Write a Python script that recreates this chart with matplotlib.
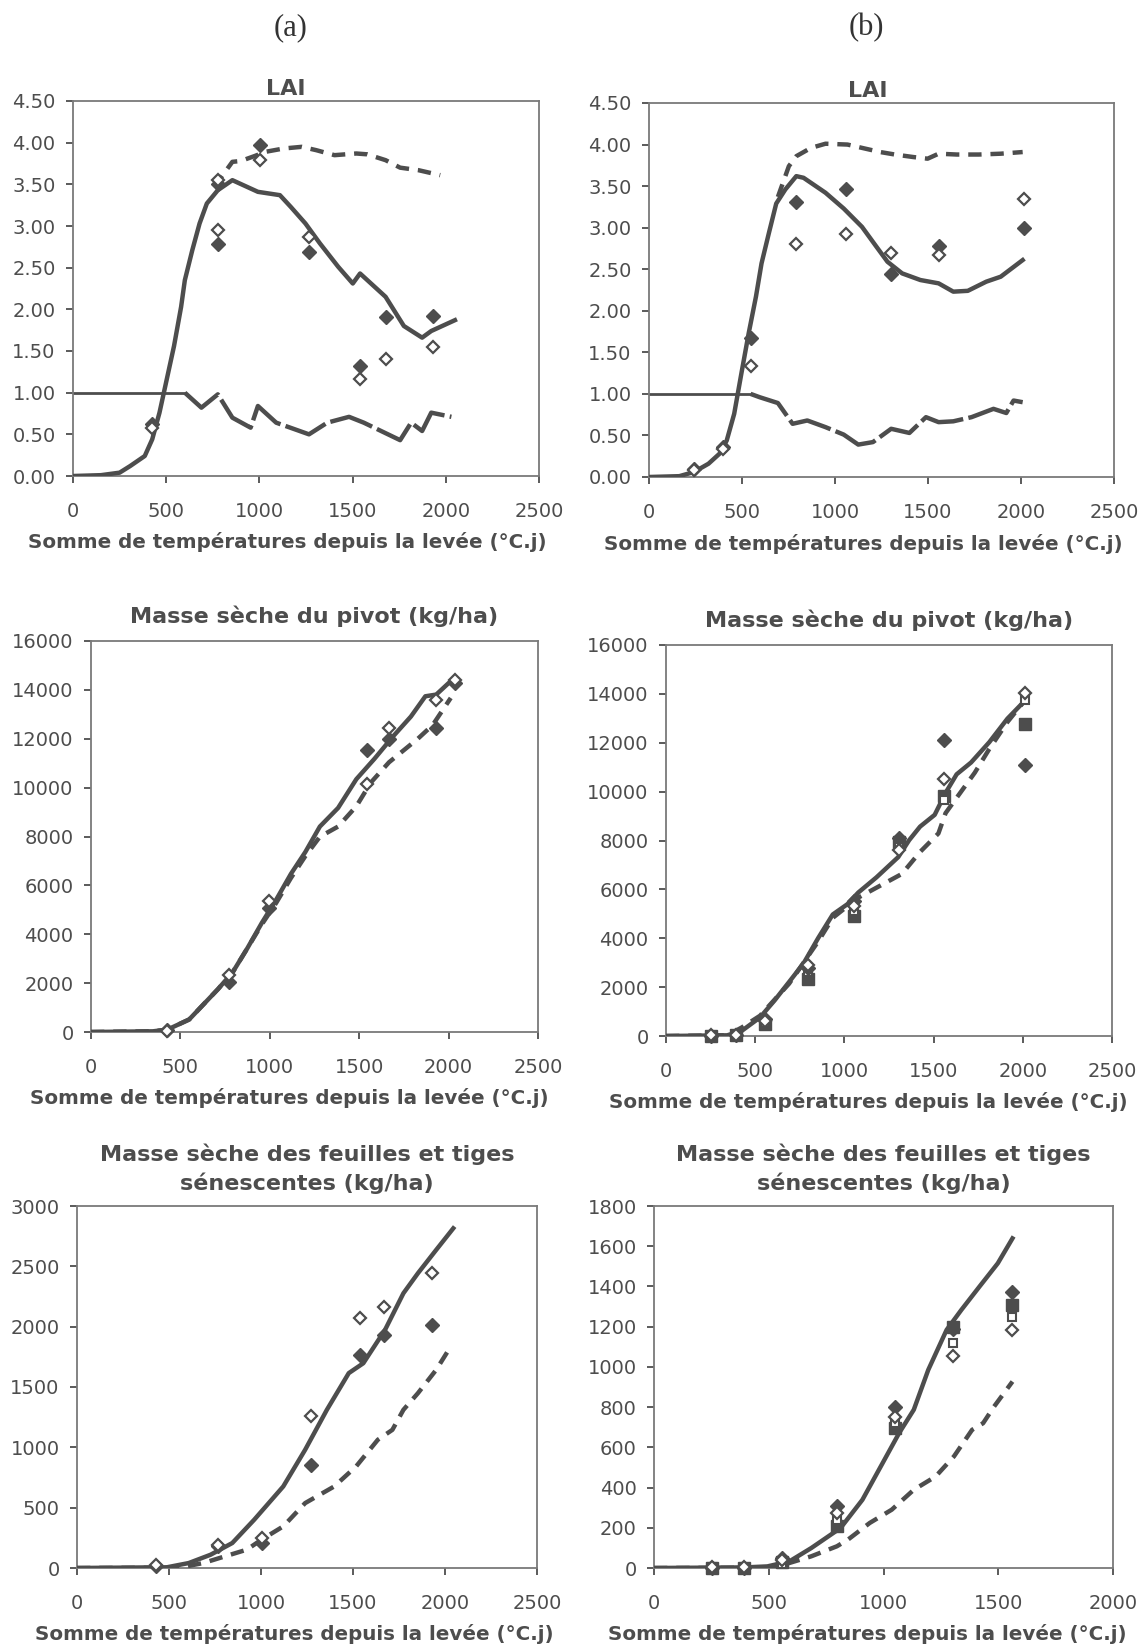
import matplotlib
matplotlib.use("Agg")
import matplotlib.pyplot as plt
from matplotlib.ticker import MultipleLocator, FormatStrFormatter

W, H = 1143, 1647
GREY = '#4d4d4d'
plt.rcParams['font.family'] = ['DejaVu Sans']

XLAB = 'Somme de températures depuis la levée (°C.j)'

# ---- LAI (a)
lai_a_x = [0, 150, 250, 307, 385, 425, 464, 503, 542, 580, 600, 640, 679, 718, 777, 855,
           992, 1110, 1168, 1247, 1325, 1423, 1501, 1540, 1677, 1775, 1873, 1922, 2049]
lai_a_y = [0, 0.01, 0.04, 0.12, 0.24, 0.44, 0.76, 1.16, 1.56, 2.03, 2.35, 2.71, 3.03, 3.27,
           3.43, 3.55, 3.41, 3.37, 3.23, 3.03, 2.79, 2.51, 2.31, 2.43, 2.15, 1.80, 1.66, 1.74, 1.87]
laimax_a_x = [760, 800, 855, 900, 975, 1032, 1130, 1227, 1305, 1403, 1520, 1579, 1677, 1755, 1853, 1970]
laimax_a_y = [3.47, 3.60, 3.77, 3.78, 3.84, 3.89, 3.93, 3.95, 3.91, 3.85, 3.87, 3.86, 3.79, 3.70, 3.67, 3.61]
stress_a_x = [0, 600, 689, 777, 855, 953, 992, 1090, 1266, 1364, 1481, 1560, 1755, 1814, 1873, 1922, 2030]
stress_a_y = [1.0, 1.0, 0.82, 0.98, 0.70, 0.58, 0.84, 0.64, 0.50, 0.64, 0.71, 0.64, 0.43, 0.64, 0.54, 0.76, 0.71]
obs_a_x = [425, 777, 777, 1002, 1266, 1540, 1677, 1932]
obs_a_fill = [0.62, 2.79, 3.51, 3.97, 2.69, 1.32, 1.91, 1.92]
obs_a_open = [0.58, 2.95, 3.55, 3.79, 2.87, 1.17, 1.40, 1.55]

# ---- LAI (b)
lai_b_x = [0, 163, 242, 320, 379, 418, 458, 497, 536, 575, 605, 644, 684, 733, 792, 831, 949,
           1047, 1145, 1223, 1282, 1361, 1459, 1557, 1636, 1714, 1813, 1891, 1950, 2009]
lai_b_y = [0, 0.01, 0.06, 0.16, 0.28, 0.44, 0.76, 1.25, 1.73, 2.17, 2.57, 2.93, 3.29, 3.46, 3.62,
           3.60, 3.42, 3.23, 3.01, 2.77, 2.59, 2.45, 2.37, 2.33, 2.23, 2.24, 2.35, 2.41, 2.51, 2.61]
laimax_b_x = [693, 752, 792, 871, 949, 1067, 1145, 1243, 1322, 1420, 1498, 1557, 1655, 1773, 1891, 2009]
laimax_b_y = [3.37, 3.74, 3.86, 3.96, 4.01, 4.00, 3.96, 3.91, 3.88, 3.85, 3.83, 3.89, 3.88, 3.88, 3.89, 3.91]
stress_b_x = [0, 546, 595, 693, 772, 851, 949, 1047, 1125, 1204, 1302, 1400, 1489, 1557, 1636,
              1734, 1852, 1921, 1960, 2009]
stress_b_y = [1.0, 1.0, 0.96, 0.89, 0.64, 0.68, 0.60, 0.51, 0.39, 0.42, 0.58, 0.53, 0.72, 0.66,
              0.67, 0.72, 0.82, 0.77, 0.92, 0.90]
obs_b_x = [242, 399, 550, 792, 1057, 1302, 1557, 2015]
obs_b_fill = [0.10, 0.36, 1.67, 3.31, 3.46, 2.44, 2.78, 2.99]
obs_b_open = [0.08, 0.34, 1.33, 2.80, 2.92, 2.69, 2.67, 3.35]

# ---- pivot (a)
piv_a_x = [0, 346, 427, 549, 630, 711, 793, 874, 955, 1037, 1118, 1199, 1280, 1382, 1484,
           1585, 1687, 1789, 1870, 1931, 2033]
piv_a_y = [0, 28, 97, 512, 1136, 1760, 2452, 3421, 4460, 5430, 6468, 7368, 8407, 9169, 10346,
           11177, 12076, 12907, 13738, 13808, 14501]
pivd_a_x = [0, 346, 427, 549, 630, 711, 793, 874, 955, 1037, 1118, 1199, 1280, 1382, 1484,
            1565, 1667, 1748, 1829, 1911, 2012]
pivd_a_y = [0, 28, 97, 512, 1136, 1760, 2452, 3421, 4400, 5300, 6300, 7200, 7990, 8407, 9238,
            10207, 11038, 11523, 12007, 12561, 13669]
pobs_a_x = [427, 772, 996, 1545, 1667, 1931, 2033]
pobs_a_fill = [97, 2036, 5084, 11523, 12007, 12451, 14293]
pobs_a_open = [28, 2313, 5361, 10138, 12423, 13600, 14400]

# ---- pivot (b)
piv_b_x = [0, 343, 424, 527, 608, 690, 771, 853, 935, 1016, 1078, 1180, 1302, 1363, 1424,
           1506, 1567, 1629, 1710, 1812, 1914, 2006]
piv_b_y = [0, 28, 207, 760, 1451, 2211, 2971, 4007, 4974, 5389, 5872, 6494, 7323, 8014, 8567,
           9050, 9948, 10708, 11192, 12021, 12988, 13679]
pivd_b_x = [0, 343, 424, 527, 690, 853, 935, 1078, 1200, 1322, 1424, 1527, 1567, 1649, 1731,
            1812, 1914, 2006]
pivd_b_y = [0, 28, 345, 829, 2142, 3869, 4836, 5665, 6149, 6632, 7530, 8290, 9119, 9948,
            10777, 11744, 12850, 13679]
pobs_b_x = [251, 394, 557, 796, 1053, 1306, 1557, 2012]
pobs_b_sq = [0, 28, 484, 2349, 4905, 7945, 9810, 12780]
pobs_b_fill = [0, 60, 691, 2763, 5527, 8083, 12117, 11095]
pobs_b_open = [30, 50, 600, 2900, 5300, 7600, 10528, 14024]
pobs_b_osq = [20, 40, 550, 2600, 5100, 7737, 9673, 13748]

# ---- senescent (a)
sen_a_x = [0, 489, 607, 726, 844, 963, 1121, 1240, 1358, 1477, 1556, 1674, 1774, 1853, 1952, 2045]
sen_a_y = [0, 6, 41, 110, 207, 400, 676, 980, 1311, 1615, 1697, 1973, 2277, 2443, 2636, 2815]
send_a_x = [0, 489, 568, 686, 805, 923, 1003, 1121, 1240, 1398, 1517, 1635, 1714, 1774, 1853, 1952, 2031]
send_a_y = [0, 2, 6, 41, 97, 152, 235, 345, 538, 676, 842, 1063, 1145, 1311, 1449, 1642, 1835]
sobs_a_x = [429, 765, 1003, 1270, 1537, 1666, 1932]
sobs_a_fill = [14, 179, 207, 856, 1767, 1932, 2015]
sobs_a_open = [28, 193, 248, 1261, 2070, 2167, 2443]

# ---- senescent (b)
sen_b_x = [0, 398, 494, 590, 685, 813, 908, 1004, 1068, 1132, 1195, 1275, 1339, 1418, 1498, 1562]
sen_b_y = [0, 3, 8, 33, 99, 199, 339, 538, 671, 787, 985, 1184, 1283, 1399, 1515, 1639]
send_b_x = [0, 398, 526, 590, 685, 797, 845, 940, 1036, 1132, 1227, 1307, 1386, 1434, 1482, 1562]
send_b_y = [0, 1, 3, 25, 58, 108, 141, 224, 290, 389, 455, 555, 687, 720, 803, 927]
sobs_b_x = [251, 394, 557, 797, 1052, 1302, 1562]
sobs_b_fill = [0, 0, 50, 306, 803, 1190, 1374]
sobs_b_open = [5, 3, 40, 273, 753, 1055, 1184]
sobs_b_sq = [0, 0, 30, 207, 695, 1200, 1308]
sobs_b_osq = [3, 2, 20, 240, 720, 1118, 1250]


def make_ax(fig, l, r, t, b):
    return fig.add_axes([l / W, 1 - b / H, (r - l) / W, (b - t) / H])


def style(ax, title, xmax, ymax, ystep, fmt, tpad=13, tx=0.5, lx=0.46):
    ax.set_xlim(0, xmax)
    ax.set_ylim(0, ymax)
    ax.xaxis.set_major_locator(MultipleLocator(500))
    ax.yaxis.set_major_locator(MultipleLocator(ystep))
    ax.yaxis.set_major_formatter(FormatStrFormatter(fmt))
    for s in ax.spines.values():
        s.set_color('#7a7a7a')
        s.set_linewidth(1.3)
    ax.tick_params(colors=GREY, labelsize=14, length=5, width=1.3, direction='out',
                   labelcolor=GREY)
    ax.tick_params(axis='x', pad=13.5)
    ax.tick_params(axis='y', pad=7.5)
    ax.set_title(title, fontsize=16, fontweight='bold', color=GREY, pad=tpad,
                 linespacing=1.45, x=tx)
    ax.set_xlabel(XLAB, fontsize=14.3, fontweight='bold', color=GREY, labelpad=8.5)
    ax.xaxis.label.set_x(lx)


def diamonds(ax, x, yf, yo, ms=7.5):
    ax.plot(x, yf, 'D', ms=ms, color=GREY, mec=GREY, clip_on=False, zorder=4)
    ax.plot(x, yo, 'D', ms=ms - 1.5, mfc='white', mec=GREY, mew=1.6, clip_on=False, zorder=4)


def main():
    fig = plt.figure(figsize=(W / 100, H / 100), dpi=100)
    fig.text(291 / W, 1 - 28 / H, '(a)', ha='center', va='center', fontsize=22,
             family='Liberation Serif', color='#333333')
    fig.text(866 / W, 1 - 28 / H, '(b)', ha='center', va='center', fontsize=22,
             family='Liberation Serif', color='#333333')

    lw = 3.2
    dash = (0, (3, 2))
    longdash = (0, (10, 1.2))

    # LAI (a)
    ax = make_ax(fig, 73, 539, 101, 476)
    style(ax, 'LAI', 2500, 4.5, 0.5, '%.2f', tpad=4, tx=0.456, lx=0.46)
    ax.plot(lai_a_x, lai_a_y, color=GREY, lw=lw, zorder=3)
    ax.plot(laimax_a_x, laimax_a_y, color=GREY, lw=lw, ls=dash, zorder=3)
    ax.plot(stress_a_x[:2], stress_a_y[:2], color=GREY, lw=2, zorder=2)
    ax.plot(stress_a_x[1:], stress_a_y[1:], color=GREY, lw=lw, ls=longdash, zorder=2)
    diamonds(ax, obs_a_x, obs_a_fill, obs_a_open)

    # LAI (b)
    ax = make_ax(fig, 649, 1114, 103, 477)
    style(ax, 'LAI', 2500, 4.5, 0.5, '%.2f', tpad=4, tx=0.47, lx=0.46)
    ax.plot(lai_b_x, lai_b_y, color=GREY, lw=lw, zorder=3)
    ax.plot(laimax_b_x, laimax_b_y, color=GREY, lw=lw, ls=dash, zorder=3)
    ax.plot(stress_b_x[:2], stress_b_y[:2], color=GREY, lw=2, zorder=2)
    ax.plot(stress_b_x[1:], stress_b_y[1:], color=GREY, lw=lw, ls=longdash, zorder=2)
    diamonds(ax, obs_b_x, obs_b_fill, obs_b_open)

    # pivot (a)
    ax = make_ax(fig, 91, 538, 641, 1032)
    style(ax, 'Masse sèche du pivot (kg/ha)', 2500, 16000, 2000, '%d', lx=0.443)
    ax.plot(piv_a_x, piv_a_y, color=GREY, lw=lw, zorder=3)
    ax.plot(pivd_a_x, pivd_a_y, color=GREY, lw=lw, ls=dash, zorder=3)
    diamonds(ax, pobs_a_x, pobs_a_fill, pobs_a_open)

    # pivot (b)
    ax = make_ax(fig, 666, 1112, 645, 1036)
    style(ax, 'Masse sèche du pivot (kg/ha)', 2500, 16000, 2000, '%d', lx=0.453)
    ax.plot(piv_b_x, piv_b_y, color=GREY, lw=lw, zorder=3)
    ax.plot(pivd_b_x, pivd_b_y, color=GREY, lw=lw, ls=dash, zorder=3)
    ax.plot(pobs_b_x, pobs_b_sq, 's', ms=8, color=GREY, clip_on=False, zorder=4)
    ax.plot(pobs_b_x, pobs_b_osq, 's', ms=6, mfc='white', mec=GREY, mew=1.5, clip_on=False, zorder=4)
    diamonds(ax, pobs_b_x, pobs_b_fill, pobs_b_open)

    # senescent (a)
    ax = make_ax(fig, 77, 537, 1206, 1568)
    style(ax, 'Masse sèche des feuilles et tiges\nsénescentes (kg/ha)', 2500, 3000, 500, '%d',
          tpad=11.5, lx=0.472)
    ax.plot(sen_a_x, sen_a_y, color=GREY, lw=lw, zorder=3)
    ax.plot(send_a_x, send_a_y, color=GREY, lw=lw, ls=dash, zorder=3)
    diamonds(ax, sobs_a_x, sobs_a_fill, sobs_a_open)

    # senescent (b)
    ax = make_ax(fig, 654, 1113, 1206, 1568)
    style(ax, 'Masse sèche des feuilles et tiges\nsénescentes (kg/ha)', 2000, 1800, 200, '%d',
          tpad=11.5, lx=0.464)
    ax.plot(sen_b_x, sen_b_y, color=GREY, lw=lw, zorder=3)
    ax.plot(send_b_x, send_b_y, color=GREY, lw=lw, ls=dash, zorder=3)
    ax.plot(sobs_b_x, sobs_b_sq, 's', ms=8, color=GREY, clip_on=False, zorder=4)
    ax.plot(sobs_b_x, sobs_b_osq, 's', ms=6, mfc='white', mec=GREY, mew=1.5, clip_on=False, zorder=4)
    diamonds(ax, sobs_b_x, sobs_b_fill, sobs_b_open)

    fig.savefig('out.png', dpi=100, facecolor='white')


if __name__ == "__main__":
    main()
